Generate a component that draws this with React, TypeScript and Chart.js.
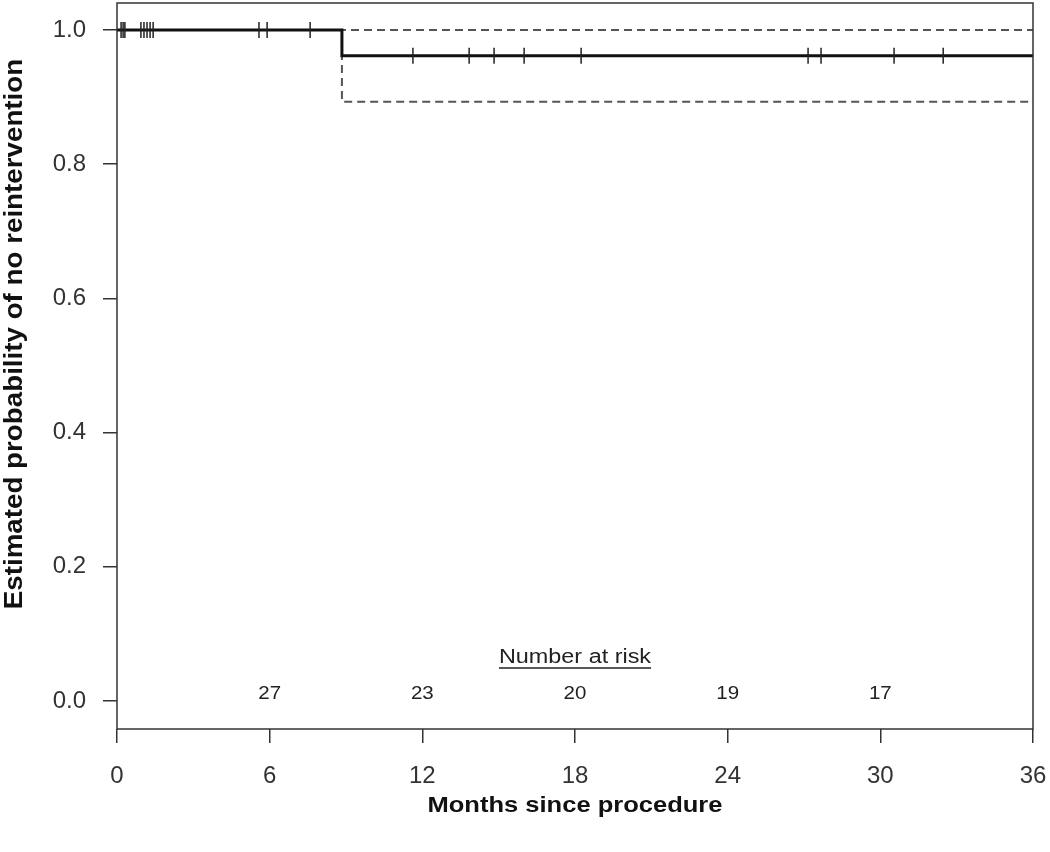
import React, { useEffect, useRef } from "react";
import { Chart, registerables } from "chart.js";

Chart.register(...registerables);

// Kaplan-Meier estimate (time in months, survival after step)
const stepTimes = [0, 8.84, 36];
const survival = [1.0, 0.9615, 0.9615];
const upperCI = [1.0, 1.0, 1.0];
const lowerCI = [1.0, 0.893, 0.893];

// Censoring times (months)
const censorTimes = [
  0.16, 0.24, 0.31, 0.94, 1.06, 1.18, 1.3, 1.42, 5.58, 5.9, 7.59,
  11.63, 13.84, 14.82, 16.0, 18.24, 27.16, 27.67, 30.54, 32.47,
];

// Number at risk table
const riskTimes = [6, 12, 18, 24, 30];
const riskCounts = [27, 23, 20, 19, 17];

const xTicks = [0, 6, 12, 18, 24, 30, 36];
const yTicks = [0.0, 0.2, 0.4, 0.6, 0.8, 1.0];

const xTitle = "Months since procedure";
const yTitle = "Estimated probability of no reintervention";
const riskHeader = "Number at risk";

const FONT = "'Liberation Sans', Arial, Helvetica, sans-serif";

function survAt(t: number): number {
  let s = survival[0];
  for (let i = 0; i < stepTimes.length; i++) {
    if (stepTimes[i] <= t) s = survival[i];
  }
  return s;
}

function stretchedText(ctx: CanvasRenderingContext2D, text: string, x: number, y: number, sx: number) {
  ctx.save();
  ctx.translate(x, y);
  ctx.scale(sx, 1);
  ctx.fillText(text, 0, 0);
  ctx.restore();
}

const decorPlugin = {
  id: "kmDecor",
  afterDraw(chart: any) {
    const { ctx, chartArea, scales } = chart;
    const xs = scales.x;
    const ys = scales.y;
    ctx.save();
    // plot box
    ctx.strokeStyle = "#333";
    ctx.lineWidth = 1.5;
    ctx.strokeRect(chartArea.left, chartArea.top, chartArea.right - chartArea.left, chartArea.bottom - chartArea.top);

    // number at risk header
    ctx.fillStyle = "#222";
    ctx.font = `20px ${FONT}`;
    ctx.textAlign = "center";
    ctx.textBaseline = "middle";
    const sx = 1.17;
    const hx = xs.getPixelForValue(18);
    const hy = ys.getPixelForValue(0.0656);
    stretchedText(ctx, riskHeader, hx, hy, sx);
    const w = ctx.measureText(riskHeader).width * sx;
    ctx.strokeStyle = "#222";
    ctx.lineWidth = 1.5;
    ctx.beginPath();
    ctx.moveTo(hx - w / 2, hy + 11);
    ctx.lineTo(hx + w / 2, hy + 11);
    ctx.stroke();

    // counts
    ctx.font = `19px ${FONT}`;
    riskTimes.forEach((t, i) => {
      stretchedText(ctx, String(riskCounts[i]), xs.getPixelForValue(t), ys.getPixelForValue(0.0104), 1.08);
    });

    // x title
    ctx.fillStyle = "#111";
    ctx.font = `bold 22px ${FONT}`;
    stretchedText(ctx, xTitle, (chartArea.left + chartArea.right) / 2, 806, 1.16);

    // y title
    ctx.font = `bold 25px ${FONT}`;
    ctx.translate(15, (chartArea.top + chartArea.bottom) / 2 - 32);
    ctx.rotate(-Math.PI / 2);
    ctx.scale(1.11, 1);
    ctx.fillText(yTitle, 0, 0);
    ctx.restore();
  },
};

export default function App() {
  const ref = useRef<HTMLCanvasElement | null>(null);

  useEffect(() => {
    if (!ref.current) return;
    const kmData = stepTimes.map((t, i) => ({ x: t, y: survival[i] }));
    const upData = stepTimes.map((t, i) => ({ x: t, y: upperCI[i] }));
    const loData = stepTimes.map((t, i) => ({ x: t, y: lowerCI[i] }));
    const censData = censorTimes.map((t) => ({ x: t, y: survAt(t) }));

    const chart = new Chart(ref.current, {
      type: "line",
      data: {
        datasets: [
          {
            type: "scatter",
            data: censData,
            showLine: false,
            pointStyle: "line",
            rotation: 90,
            pointRadius: 8,
            pointBorderWidth: 1.5,
            borderColor: "#222",
            backgroundColor: "#222",
          } as any,
          {
            data: kmData,
            stepped: "before",
            borderColor: "#111",
            borderWidth: 3,
            pointRadius: 0,
            fill: false,
          },
          {
            data: upData,
            stepped: "before",
            borderColor: "#555",
            borderWidth: 2,
            borderDash: [8, 5],
            pointRadius: 0,
            fill: false,
          },
          {
            data: loData,
            stepped: "before",
            borderColor: "#555",
            borderWidth: 2,
            borderDash: [8, 5],
            pointRadius: 0,
            fill: false,
          },
        ],
      },
      options: {
        animation: false,
        responsive: false,
        devicePixelRatio: 1,
        layout: { autoPadding: false, padding: { top: 3, right: 17, left: 0, bottom: 0 } },
        plugins: { legend: { display: false }, tooltip: { enabled: false } },
        scales: {
          x: {
            type: "linear",
            min: 0,
            max: 36,
            afterBuildTicks: (s: any) => {
              s.ticks = xTicks.map((v) => ({ value: v }));
            },
            afterFit: (s: any) => {
              s.height = 123;
              s.paddingLeft = 0;
              s.paddingRight = 0;
            },
            border: { display: false },
            grid: {
              drawOnChartArea: false,
              drawTicks: true,
              tickLength: 14,
              color: "#333",
              lineWidth: 1.5,
            },
            ticks: {
              autoSkip: false,
              maxRotation: 0,
              padding: 19,
              color: "#333",
              font: { family: FONT, size: 24 },
              callback: (v: any) => String(v),
            },
          },
          y: {
            type: "linear",
            min: -0.0417,
            max: 1.0402,
            afterBuildTicks: (s: any) => {
              s.ticks = yTicks.map((v) => ({ value: v }));
            },
            afterFit: (s: any) => {
              s.width = 117;
              s.paddingTop = 0;
              s.paddingBottom = 0;
            },
            border: { display: false },
            grid: {
              drawOnChartArea: false,
              drawTicks: true,
              tickLength: 14,
              color: "#333",
              lineWidth: 1.5,
            },
            ticks: {
              autoSkip: false,
              padding: 17,
              color: "#333",
              font: { family: FONT, size: 24 },
              callback: (v: any) => Number(v).toFixed(1),
            },
          },
        },
      },
      plugins: [decorPlugin],
    });
    return () => chart.destroy();
  }, []);

  return (
    <div style={{ position: "absolute", left: 0, top: 0, width: 1050, height: 852, background: "#fff" }}>
      <canvas ref={ref} width={1050} height={852} />
    </div>
  );
}
